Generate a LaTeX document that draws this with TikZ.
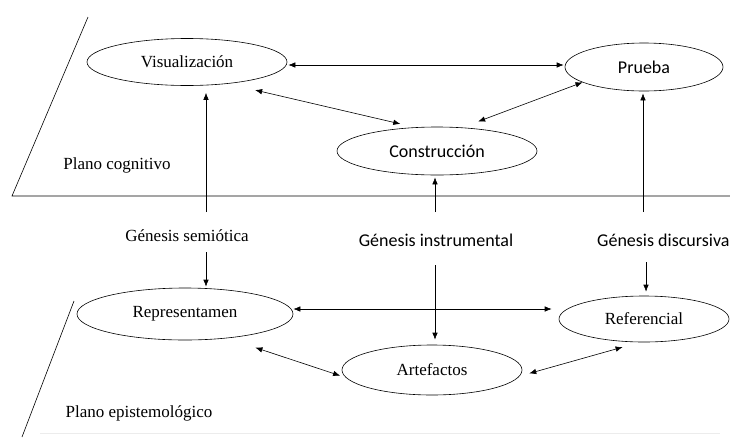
\documentclass[tikz,border=0pt]{standalone}
\usepackage{fontspec}
\newfontfamily\sansf{Carlito}
\newfontfamily\seriff{Liberation Serif}
\usetikzlibrary{arrows.meta,shapes.geometric}
\begin{document}
\begin{tikzpicture}[x=1pt,y=-1pt,
  ell/.style={draw, ellipse, inner sep=0pt, line width=0.6pt},
  arr/.style={-{Latex[length=7pt,width=5.5pt]}, line width=0.6pt},
  darr/.style={{Latex[length=7pt,width=5.5pt]}-{Latex[length=7pt,width=5.5pt]}, line width=0.6pt},
  serif/.style={font=\seriff\fontsize{17}{19}\selectfont},
  sans/.style={font=\sansf\fontsize{18}{20}\selectfont},
  plane/.style={line width=0.6pt}]
\useasboundingbox (0,0) rectangle (730,437);
% planes
\draw[plane] (88,17) -- (12,196) -- (730,196);
\draw[plane] (74,301) -- (22,437);
\draw[gray!15, line width=0.6pt] (40,433) -- (720,433);
% ellipses
\node[ell, serif, minimum width=200pt, minimum height=47pt] (vis) at (187,62) {Visualización};
\node[ell, sans, minimum width=158pt, minimum height=48pt] (pru) at (644,67) {Prueba};
\node[ell, sans, minimum width=200pt, minimum height=48pt] (con) at (437,151) {Construcción};
\node[ell, serif, minimum width=216pt, minimum height=52pt] (rep) at (185,314) {Representamen};
\node[ell, serif, minimum width=170pt, minimum height=46pt] (ref) at (644,319) {Referencial};
\node[ell, serif, minimum width=180pt, minimum height=50pt] (art) at (432,370) {Artefactos};
% labels
\node[serif] (pc) at (117,165) {Plano cognitivo};
\node[serif] (pe) at (139,413) {Plano epistemológico};
\node[serif] (gs) at (187,236) {Génesis semiótica};
\node[sans] (gi) at (436,240) {Génesis instrumental};
\node[sans, anchor=west, inner sep=0pt] (gd) at (597,240) {Génesis discursiva};
% horizontal double arrows
\coordinate (h1) at ([yshift=-3pt]vis.east);
\draw[darr, shorten <=1pt, shorten >=1pt] (h1) -- (h1 -| pru.west);
\coordinate (h2) at ([yshift=5pt]rep.east);
\draw[darr, shorten >=7pt] (h2) -- (h2 -| ref.west);
% oblique double arrows
\draw[darr, shorten <=28pt, shorten >=15pt] (vis.-28) -- (con.133);
\draw[darr, shorten <=17pt] (con.43) -- (pru.194);
\draw[darr, shorten <=30pt, shorten >=6pt] (rep.-30) -- (art.185);
\draw[darr, shorten <=10pt, shorten >=18pt] (art.-4) -- (ref.-100);
% vertical arrows
\coordinate (gsu) at (206,212);
\draw[arr, shorten >=7pt] (gsu) -- (gsu |- vis.south);
\coordinate (gsd) at (206,252);
\draw[arr, shorten >=1pt] (gsd) -- (gsd |- rep.north);
\coordinate (giu) at (435,212);
\draw[arr, shorten >=2pt] (giu) -- (giu |- con.south);
\coordinate (gid) at (435,265);
\draw[arr, shorten >=5pt] (gid) -- (gid |- art.north);
\coordinate (gdu) at (643,212);
\draw[arr, shorten >=2pt] (gdu) -- (gdu |- pru.south);
\coordinate (gdd) at (646,262);
\draw[arr, shorten >=4pt] (gdd) -- (gdd |- ref.north);
\end{tikzpicture}
\end{document}
